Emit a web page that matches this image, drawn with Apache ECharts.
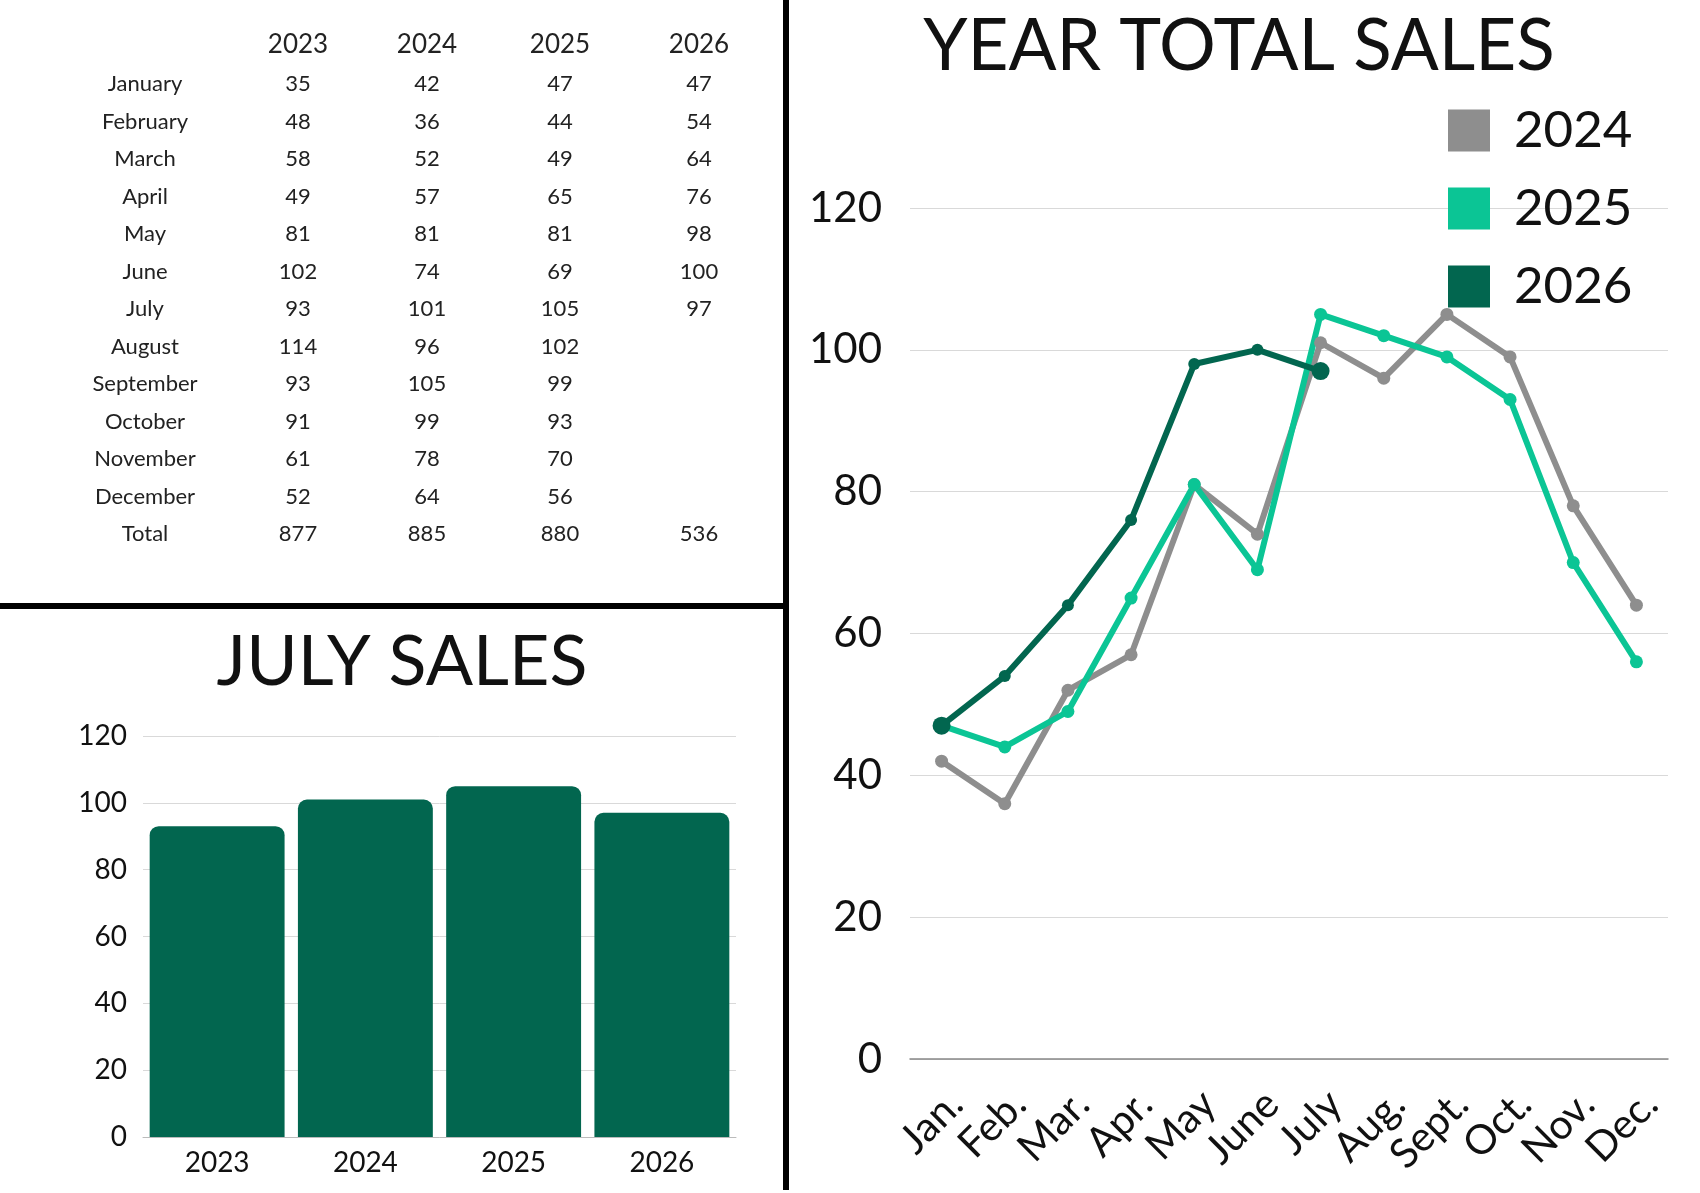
<!DOCTYPE html>
<html>
<head>
<meta charset="utf-8">
<title>Sales</title>
<script src="https://cdn.jsdelivr.net/npm/echarts@6/dist/echarts.min.js"></script>
<style>
	html, body { margin: 0; padding: 0; background: #fff; }
	#main { width: 1700px; height: 1193px; }
</style>
</head>
<body>
<div id="main"></div>
<script>
	var years = ['2023', '2024', '2025', '2026'];
	var months = ['January', 'February', 'March', 'April', 'May', 'June', 'July', 'August', 'September', 'October', 'November', 'December'];
	var monthShort = ['Jan.', 'Feb.', 'Mar.', 'Apr.', 'May', 'June', 'July', 'Aug.', 'Sept.', 'Oct.', 'Nov.', 'Dec.'];
	var sales2023 = [35, 48, 58, 49, 81, 102, 93, 114, 93, 91, 61, 52];
	var sales2024 = [42, 36, 52, 57, 81, 74, 101, 96, 105, 99, 78, 64];
	var sales2025 = [47, 44, 49, 65, 81, 69, 105, 102, 99, 93, 70, 56];
	var sales2026 = [47, 54, 64, 76, 98, 100, 97];
	var totals = [877, 885, 880, 536];
	var julySales = [93, 101, 105, 97];
	var yTicks = [0, 20, 40, 60, 80, 100, 120];

	var font = 'Lato, "Open Sans", sans-serif';

	/*表格*/
	var cols = [sales2023, sales2024, sales2025, sales2026];
	var colX = [298, 427, 560, 699];
	var table = [];
	function cell(txt, x, y, size) {
		return {
			type: 'text', x: x, y: y,
			style: { text: txt, align: 'center', verticalAlign: 'middle', fontSize: size, fontFamily: font, fill: '#222' }
		};
	}
	for(var c = 0; c < years.length; c++) {
		table.push(cell(years[c], colX[c], 45, 26));
	}
	for(var r = 0; r <= months.length; r++) {
		var y = 84 + r * 37.5;
		var label = r < months.length ? months[r] : 'Total';
		table.push(cell(label, 145, y, 22));
		for(var c = 0; c < cols.length; c++) {
			var v = r < months.length ? cols[c][r] : totals[c];
			if(v === undefined) continue;
			table.push(cell(String(v), colX[c], y, 22));
		}
	}
	// separator lines
	table.push({ type: 'rect', shape: { x: 783, y: 0, width: 6, height: 1190 }, style: { fill: '#000' } });
	table.push({ type: 'rect', shape: { x: 0, y: 603, width: 786, height: 6 }, style: { fill: '#000' } });

	var chart = echarts.init(document.getElementById('main'));
	var option = {
		backgroundColor: '#fff',
		animation: false,
		textStyle: { fontFamily: font },
		title: [{
			text: 'JULY SALES',
			left: 397, top: 657,
			textAlign: 'center', textVerticalAlign: 'middle',
			textStyle: { fontSize: 70, fontWeight: 'normal', color: '#111', fontFamily: font }
		}, {
			text: 'YEAR TOTAL SALES',
			left: 1234, top: 42,
			textAlign: 'center', textVerticalAlign: 'middle',
			textStyle: { fontSize: 71, fontWeight: 'normal', color: '#111', fontFamily: font }
		}],
		legend: {
			data: ['2024', '2025', '2026'],
			orient: 'vertical',
			left: 1443, top: 100,
			icon: 'rect',
			itemWidth: 42, itemHeight: 42, itemGap: 27,
			textStyle: { fontSize: 51, color: '#111', fontFamily: font, padding: [0, 0, 0, 19] }
		},
		grid: [
			{ left: 143, top: 736, width: 593, height: 401 },
			{ left: 910, top: 208, width: 758, height: 851 }
		],
		xAxis: [{
			gridIndex: 0,
			type: 'category',
			data: years,
			axisTick: { show: false },
			axisLine: { lineStyle: { color: '#bbb' } },
			axisLabel: { fontSize: 28, color: '#111', margin: 12, fontFamily: font }
		}, {
			gridIndex: 1,
			type: 'category',
			data: monthShort,
			axisTick: { show: false },
			axisLine: { lineStyle: { color: '#888', width: 1.5 } },
			axisLabel: { fontSize: 41, color: '#111', rotate: 45, margin: 24, interval: 0, verticalAlign: 'top', fontFamily: font }
		}],
		yAxis: [{
			gridIndex: 0,
			type: 'value',
			min: yTicks[0], max: yTicks[yTicks.length - 1], interval: 20,
			axisLine: { show: false },
			axisTick: { show: false },
			splitLine: { lineStyle: { color: '#d9d9d9' } },
			axisLabel: { fontSize: 28, color: '#111', margin: 16, fontFamily: font }
		}, {
			gridIndex: 1,
			type: 'value',
			min: yTicks[0], max: yTicks[yTicks.length - 1], interval: 20,
			axisLine: { show: false },
			axisTick: { show: false },
			splitLine: { lineStyle: { color: '#d9d9d9' } },
			axisLabel: { fontSize: 42, color: '#111', margin: 28, fontFamily: font }
		}],
		series: [{
			name: 'July',
			type: 'bar',
			xAxisIndex: 0, yAxisIndex: 0,
			data: julySales,
			barCategoryGap: '9%',
			itemStyle: { color: '#02664F', borderRadius: [9, 9, 0, 0] }
		}, {
			name: '2024',
			type: 'line',
			xAxisIndex: 1, yAxisIndex: 1,
			data: sales2024,
			color: '#8E8E8E',
			symbol: 'circle', symbolSize: 13,
			lineStyle: { width: 6 }
		}, {
			name: '2025',
			type: 'line',
			xAxisIndex: 1, yAxisIndex: 1,
			data: sales2025,
			color: '#0BC595',
			symbol: 'circle', symbolSize: 13,
			lineStyle: { width: 6 }
		}, {
			name: '2026',
			type: 'line',
			xAxisIndex: 1, yAxisIndex: 1,
			data: sales2026,
			color: '#02664F',
			symbol: 'circle',
			symbolSize: function(val, params) {
				return (params.dataIndex === 0 || params.dataIndex === sales2026.length - 1) ? 18 : 12;
			},
			lineStyle: { width: 6 }
		}],
		graphic: table
	};
	chart.setOption(option);
</script>
</body>
</html>
